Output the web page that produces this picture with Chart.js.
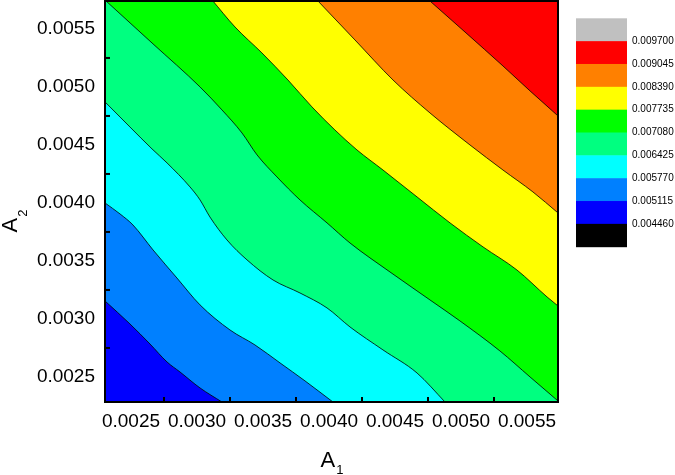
<!DOCTYPE html>
<html>
<head>
<meta charset="utf-8">
<script src="https://cdn.jsdelivr.net/npm/chart.js@4.4.1/dist/chart.umd.min.js"></script>
<style>
html, body { margin: 0; padding: 0; background: #fff; }
#wrap { width: 675px; height: 475px; }
</style>
</head>
<body>
<div id="wrap"><canvas id="myContourChart"></canvas></div>
<script>
// contour levels (colour bar labels) and fill colour of each band
var LEVELS = [0.004460, 0.005115, 0.005770, 0.006425, 0.007080, 0.007735, 0.008390, 0.009045, 0.009700];
var LEVEL_COLORS = ['#000000', '#0000FF', '#0080FF', '#00FFFF', '#00FF80', '#00FF00', '#FFFF00', '#FF8000', '#FF0000', '#C0C0C0'];

var X_TICKS = [0.0025, 0.0030, 0.0035, 0.0040, 0.0045, 0.0050, 0.0055];
var Y_TICKS = [0.0025, 0.0030, 0.0035, 0.0040, 0.0045, 0.0050, 0.0055];
var MINOR_TICKS = [0.00275, 0.00325, 0.00375, 0.00425, 0.00475, 0.00525];

// contour lines, [A1, A2] pairs
var CONTOUR_5115 = [[0.002303, 0.003155], [0.002492, 0.002957], [0.002644, 0.002784], [0.002773, 0.002629],
    [0.002871, 0.002543], [0.003023, 0.002405], [0.003189, 0.002284]];
var CONTOUR_5770 = [[0.002303, 0.004000], [0.002417, 0.003905], [0.002515, 0.003810], [0.002667, 0.003595],
    [0.002848, 0.003353], [0.003023, 0.003121], [0.003250, 0.002905], [0.003439, 0.002776],
    [0.003629, 0.002621], [0.003818, 0.002466], [0.004030, 0.002284]];
var CONTOUR_6425 = [[0.002303, 0.004871], [0.002492, 0.004655], [0.002659, 0.004466], [0.002773, 0.004345],
    [0.002947, 0.004138], [0.003023, 0.004026], [0.003098, 0.003879], [0.003227, 0.003681],
    [0.003379, 0.003509], [0.003576, 0.003336], [0.003780, 0.003224], [0.003985, 0.003095],
    [0.004159, 0.002931], [0.004409, 0.002733], [0.004667, 0.002534], [0.004879, 0.002284]];
var CONTOUR_7080 = [[0.002311, 0.005741], [0.002667, 0.005371], [0.003023, 0.005000], [0.003189, 0.004802],
    [0.003341, 0.004603], [0.003455, 0.004414], [0.003606, 0.004224], [0.003780, 0.004026],
    [0.003985, 0.003828], [0.004159, 0.003655], [0.004462, 0.003405], [0.004765, 0.003164],
    [0.004992, 0.002983], [0.005295, 0.002724], [0.005523, 0.002500], [0.005735, 0.002293]];
var CONTOUR_7735 = [[0.003114, 0.005750], [0.003288, 0.005517], [0.003492, 0.005293], [0.003689, 0.005060],
    [0.003871, 0.004828], [0.004045, 0.004629], [0.004212, 0.004457], [0.004409, 0.004284],
    [0.004667, 0.004052], [0.004917, 0.003828], [0.005167, 0.003621], [0.005424, 0.003422],
    [0.005652, 0.003190], [0.005735, 0.003112]];
var CONTOUR_8390 = [[0.003909, 0.005750], [0.004197, 0.005405], [0.004485, 0.005060], [0.004765, 0.004776],
    [0.005068, 0.004500], [0.005318, 0.004284], [0.005545, 0.004095], [0.005735, 0.003914]];
var CONTOUR_9045 = [[0.004765, 0.005741], [0.005038, 0.005466], [0.005318, 0.005181],
    [0.005523, 0.004966], [0.005735, 0.004750]];

var FONT = '"Liberation Sans", Arial, sans-serif';

function toPoints(pairs) {
    return pairs.map(function (p) { return {x: p[0], y: p[1]}; });
}

// lines below the middle band fill downwards, lines above fill upwards
function buildDatasets() {
    var lines = [
        {data: CONTOUR_5115, level: 1, side: 'start', order: 1},
        {data: CONTOUR_5770, level: 2, side: 'start', order: 2},
        {data: CONTOUR_6425, level: 3, side: 'start', order: 3},
        {data: CONTOUR_7080, level: 4, side: 'end', order: 7},
        {data: CONTOUR_7735, level: 5, side: 'end', order: 6},
        {data: CONTOUR_8390, level: 6, side: 'end', order: 5},
        {data: CONTOUR_9045, level: 7, side: 'end', order: 4}
    ];
    return lines.map(function (l) {
        var color = l.side === 'start' ? LEVEL_COLORS[l.level] : LEVEL_COLORS[l.level + 1];
        return {
            label: LEVELS[l.level].toFixed(6),
            data: toPoints(l.data),
            showLine: true,
            pointRadius: 0,
            borderColor: '#000',
            borderWidth: 0.8,
            backgroundColor: color,
            fill: l.side,
            cubicInterpolationMode: 'monotone',
            order: l.order
        };
    });
}

var contourPlugin = {
    id: 'contourExtras',
    beforeDatasetsDraw: function (chart) {
        var a = chart.chartArea, ctx = chart.ctx;
        ctx.save();
        ctx.fillStyle = LEVEL_COLORS[4];
        ctx.fillRect(a.left, a.top, a.right - a.left, a.bottom - a.top);
        ctx.restore();
    },
    afterDraw: function (chart) {
        var a = chart.chartArea, ctx = chart.ctx,
            xs = chart.scales.x, ys = chart.scales.y, i, p;
        ctx.save();
        // minor ticks
        ctx.strokeStyle = '#000';
        ctx.lineWidth = 2;
        for (i = 0; i < MINOR_TICKS.length; i++) {
            p = xs.getPixelForValue(MINOR_TICKS[i]);
            ctx.beginPath(); ctx.moveTo(p, a.bottom); ctx.lineTo(p, a.bottom - 5); ctx.stroke();
            p = ys.getPixelForValue(MINOR_TICKS[i]);
            ctx.beginPath(); ctx.moveTo(a.left, p); ctx.lineTo(a.left + 5, p); ctx.stroke();
        }
        // frame
        ctx.strokeRect(a.left, a.top, a.right - a.left, a.bottom - a.top);

        // axis titles with subscripts
        ctx.fillStyle = '#000';
        ctx.textBaseline = 'alphabetic';
        ctx.textAlign = 'left';
        var cx = (a.left + a.right) / 2;
        ctx.font = '22px ' + FONT;
        var wA = ctx.measureText('A').width;
        ctx.fillText('A', cx - 11, a.bottom + 65);
        ctx.font = '13px ' + FONT;
        ctx.fillText('1', cx - 11 + wA + 1, a.bottom + 72);

        ctx.translate(a.left - 88, (a.top + a.bottom) / 2 + 31);
        ctx.rotate(-Math.PI / 2);
        ctx.font = '22px ' + FONT;
        ctx.fillText('A', 0, 0);
        ctx.font = '13px ' + FONT;
        ctx.fillText('2', wA + 1, 10);
        ctx.setTransform(1, 0, 0, 1, 0, 0);

        // colour bar
        var bx = a.right + 18, bw = 51, by = a.top + 17.3, bh = 22.84;
        for (i = 0; i < LEVEL_COLORS.length; i++) {
            ctx.fillStyle = LEVEL_COLORS[LEVEL_COLORS.length - 1 - i];
            ctx.fillRect(bx, by + i * bh, bw, bh + 0.5);
        }
        ctx.fillStyle = '#000';
        ctx.font = '10px ' + FONT;
        ctx.textBaseline = 'middle';
        for (i = 0; i < LEVELS.length; i++) {
            ctx.fillText(LEVELS[LEVELS.length - 1 - i].toFixed(6), bx + bw + 5, by + (i + 1) * bh);
        }
        ctx.restore();
    }
};

function noPadding(s) {
    s.paddingTop = 0;
    s.paddingBottom = 0;
    s.paddingLeft = 0;
    s.paddingRight = 0;
}

var createContour = function () {
    return new Chart(document.getElementById('myContourChart').getContext('2d'), {
        type: 'scatter',
        data: {datasets: buildDatasets()},
        options: {
            responsive: true,
            maintainAspectRatio: false,
            animation: false,
            layout: {padding: {top: 1, right: 117, left: 0, bottom: 0}},
            plugins: {legend: {display: false}, tooltip: {enabled: false}},
            scales: {
                x: {
                    type: 'linear',
                    min: 0.002303,
                    max: 0.005735,
                    z: 1,
                    border: {display: false},
                    grid: {drawOnChartArea: false, tickLength: -8, tickWidth: 2, tickColor: '#000'},
                    ticks: {
                        padding: 16,
                        color: '#000',
                        font: {family: FONT, size: 19},
                        maxRotation: 0,
                        callback: function (v) { return v.toFixed(4); }
                    },
                    afterBuildTicks: function (s) { s.ticks = X_TICKS.map(function (v) { return {value: v}; }); },
                    afterFit: function (s) { s.height = 73; noPadding(s); }
                },
                y: {
                    type: 'linear',
                    min: 0.002284,
                    max: 0.005741,
                    z: 1,
                    border: {display: false},
                    grid: {drawOnChartArea: false, tickLength: -8, tickWidth: 2, tickColor: '#000'},
                    ticks: {
                        padding: 18,
                        color: '#000',
                        font: {family: FONT, size: 19},
                        callback: function (v) { return v.toFixed(4); }
                    },
                    afterBuildTicks: function (s) { s.ticks = Y_TICKS.map(function (v) { return {value: v}; }); },
                    afterFit: function (s) { s.width = 105; noPadding(s); }
                }
            }
        },
        plugins: [contourPlugin]
    });
};

createContour();
</script>
</body>
</html>
